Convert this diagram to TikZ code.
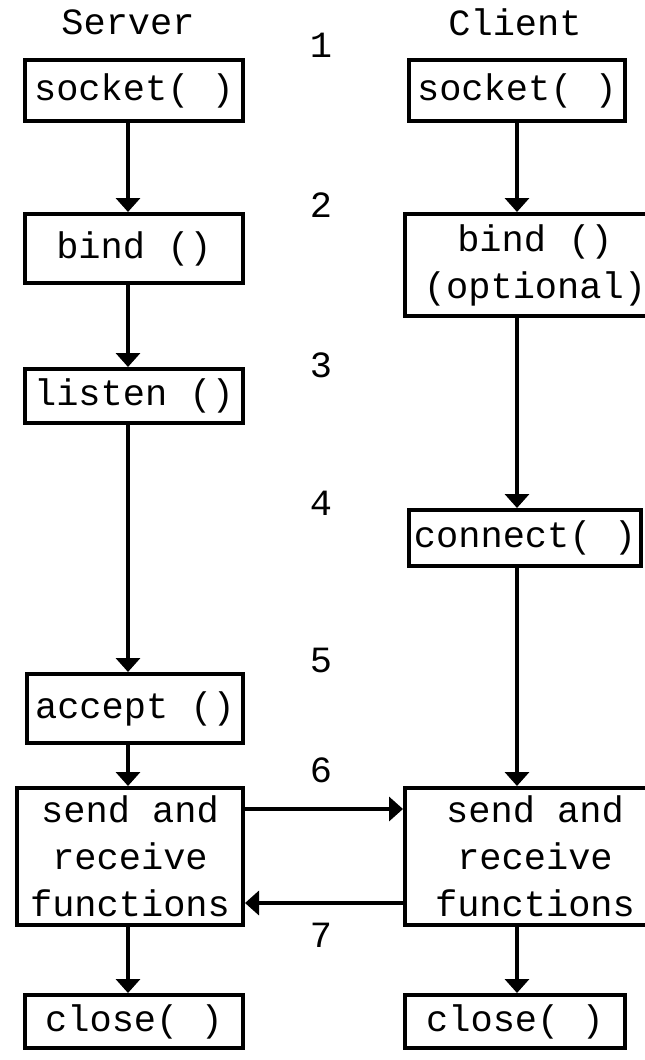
\documentclass[tikz,border=0pt]{standalone}
\usepackage{fontspec}
\setmonofont{Liberation Mono}
\usetikzlibrary{arrows.meta}
\begin{document}
\begin{tikzpicture}[x=1pt,y=-1pt,
  every node/.style={font=\ttfamily\fontsize{37}{47}\selectfont, inner sep=0pt},
  fbox/.style={draw, line width=4pt, rectangle, align=center},
  flow/.style={line width=4pt, -{Triangle[width=24pt,length=14pt]}},
  lbl/.style={}]
  \useasboundingbox (0,0) rectangle (645,1060);
  \clip (0,0) rectangle (645,1060);

  % column headings and step numbers
  \node[lbl] (hs) at (128,22) {Server};
  \node[lbl] (hc) at (515,22) {Client};
  \node[lbl] (n1) at (321,45) {1};
  \node[lbl] (n2) at (321,205) {2};
  \node[lbl] (n3) at (321,365) {3};
  \node[lbl] (n4) at (321,503) {4};
  \node[lbl] (n5) at (321,660) {5};
  \node[lbl] (n6) at (321,770) {6};
  \node[lbl] (n7) at (321,935) {7};

  % column axes for the vertical connectors
  \coordinate (sx) at (128,0);
  \coordinate (cx) at (517,0);

  % server side
  \node[fbox, minimum width=218pt, minimum height=61pt]  (ssock)   at (134,90.5)  {socket( )};
  \node[fbox, minimum width=218pt, minimum height=69pt]  (sbind)   at (134,248.5) {bind ()};
  \node[fbox, minimum width=218pt, minimum height=54pt]  (slisten) at (134,396)   {listen ()};
  \node[fbox, minimum width=216pt, minimum height=69pt]  (saccept) at (135,708.5) {accept ()};
  \node[fbox, minimum width=226pt, minimum height=137pt] (ssend)   at (130,856.5) {send and\\receive\\functions};
  \node[fbox, minimum width=218pt, minimum height=53pt]  (sclose)  at (134,1021.5) {close( )};

  % client side
  \node[fbox, minimum width=216pt, minimum height=61pt]  (csock)   at (517,90.5)  {socket( )};
  \node[fbox, minimum width=260pt, minimum height=102pt] (cbind)   at (535,265)   {bind ()\\(optional)};
  \node[fbox, minimum width=232pt, minimum height=56pt]  (cconn)   at (525,538)   {connect( )};
  \node[fbox, minimum width=260pt, minimum height=137pt] (csend)   at (535,856.5) {send and\\receive\\functions};
  \node[fbox, minimum width=220pt, minimum height=53pt]  (cclose)  at (515,1021.5) {close( )};

  % server flow
  \draw[flow] (ssock.south -| sx)   -- (sbind.north -| sx);
  \draw[flow] (sbind.south -| sx)   -- (slisten.north -| sx);
  \draw[flow] (slisten.south -| sx) -- (saccept.north -| sx);
  \draw[flow] (saccept.south -| sx) -- (ssend.north -| sx);
  \draw[flow] (ssend.south -| sx)   -- (sclose.north -| sx);

  % client flow
  \draw[flow] (csock.south -| cx)   -- (cbind.north -| cx);
  \draw[flow] (cbind.south -| cx)   -- (cconn.north -| cx);
  \draw[flow] (cconn.south -| cx)   -- (csend.north -| cx);
  \draw[flow] (csend.south -| cx)   -- (cclose.north -| cx);

  % data exchange
  \draw[flow] ([yshift=47.5pt]ssend.east) -- ([yshift=47.5pt]csend.west);
  \draw[flow] ([yshift=-46.5pt]csend.west) -- ([yshift=-46.5pt]ssend.east);
\end{tikzpicture}
\end{document}
